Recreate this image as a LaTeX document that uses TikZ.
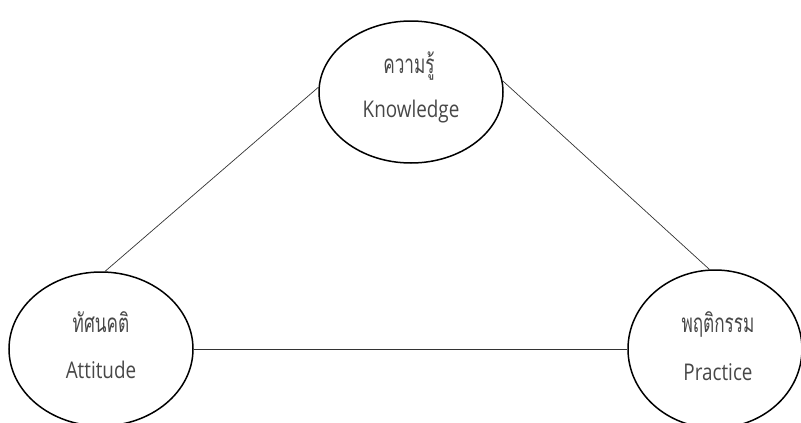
\documentclass[tikz,border=0pt]{standalone}
\usepackage{fontspec}
\setmainfont{Open Sans}[FakeStretch=0.82]
\newfontfamily\thaifont[Script=Thai,FakeStretch=0.66]{Loma}
\usetikzlibrary{shapes.geometric}
\begin{document}
\begin{tikzpicture}[x=1pt,y=-1pt,
  oval/.style={ellipse,draw=black,line width=1.5pt,inner sep=0pt},
  lbl/.style={text=black!72,font=\fontsize{23}{26}\selectfont,inner sep=0pt,anchor=base},
  tlbl/.style={lbl,font=\thaifont\fontsize{26}{30}\selectfont},
  link/.style={draw=black!80,line width=0.7pt}]
\useasboundingbox (0,0) rectangle (801,423);
\node[oval,minimum width=184pt,minimum height=142pt] (k) at (411,92) {};
\node[oval,minimum width=184pt,minimum height=154pt] (a) at (101,349) {};
\node[oval,minimum width=174pt,minimum height=158pt] (p) at (715,349) {};
\node[tlbl] (kt) at (409,73) {ความรู้};
\node[lbl] (ke) at (411,117) {Knowledge};
\node[tlbl] (at) at (101,332) {ทัศนคติ};
\node[lbl] (ae) at (101,378) {Attitude};
\node[tlbl] (pt) at (718,332) {พฤติกรรม};
\node[lbl] (pe) at (718,380) {Practice};
\draw[link] (k.177) -- (a.87);
\draw[link] (k.7) -- (p.94);
\draw[link] (a.east) -- (p.west);
\end{tikzpicture}
\end{document}
